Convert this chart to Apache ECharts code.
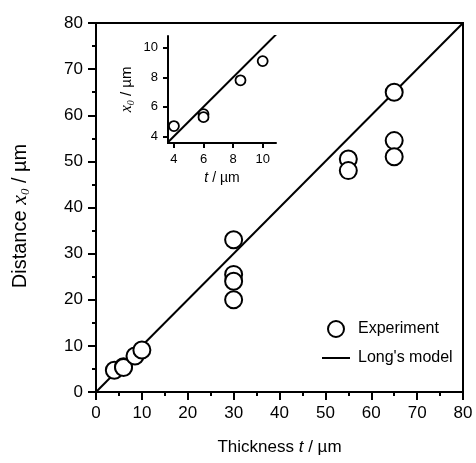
<!DOCTYPE html>
<html>
<head>
<meta charset="utf-8">
<script src="https://cdn.jsdelivr.net/npm/echarts@6/dist/echarts.min.js"></script>
<style>
html, body { margin: 0; padding: 0; background: #fff; }
#main { width: 476px; height: 463px; }
</style>
</head>
<body>
<div id="main"></div>
<script>
"use strict";

// measured points (thickness t, distance x0), both in µm
var thickness = [4, 6, 6, 8.5, 10, 30, 30, 30, 30, 55, 55, 65, 65, 65];
var distance = [4.7, 5.5, 5.3, 7.8, 9.1, 33, 25.5, 24, 20, 50.5, 48, 65, 54.5, 51];
// Long's model line
var modelT = [0, 80];
var modelX = [0, 80];
// inset (zoom on the thin samples)
var insetThickness = [4, 6, 6, 8.5, 10];
var insetDistance = [4.7, 5.5, 5.3, 7.8, 9.1];
var insetModelT = [3.5, 11];
var insetModelX = [3.5, 11];
var insetTicks = [4, 6, 8, 10];

var FONT = "'Liberation Sans', Arial, sans-serif";
var SERIF = "'Liberation Serif', 'Times New Roman', serif";

function pairs(xs, ys) {
    var out = [];
    for (var i = 0; i < xs.length; i++) out.push([xs[i], ys[i]]);
    return out;
}

var myChart = echarts.init(document.getElementById('main'), null, { renderer: 'canvas' });

var axisLine = { lineStyle: { color: '#000', width: 2 } };

var option = {
    animation: false,
    backgroundColor: '#fff',
    textStyle: { fontFamily: FONT, color: '#000' },
    legend: {
        data: [
            { name: 'Experiment' },
            { name: "Long's model", icon: 'path://M0,0 L28,0 L28,2 L0,2 Z', itemStyle: { color: '#000' } }
        ],
        orient: 'vertical',
        left: 317,
        top: 315,
        itemWidth: 28,
        itemHeight: 16,
        itemGap: 12,
        textStyle: { fontSize: 16, color: '#000', fontFamily: FONT, padding: [0, 0, 0, 3] }
    },
    grid: [
        { left: 96, right: 13, top: 23, bottom: 71, show: true, borderColor: '#000', borderWidth: 2 },
        { left: 168, top: 36, width: 108, height: 107 }
    ],
    xAxis: [
        {
            gridIndex: 0, type: 'value', min: 0, max: 80, interval: 10,
            axisLine: axisLine,
            axisTick: { length: 8, lineStyle: { color: '#000', width: 2 } },
            minorTick: { show: true, splitNumber: 2, length: 4, lineStyle: { color: '#000', width: 2 } },
            splitLine: { show: false },
            axisLabel: { color: '#000', fontSize: 17, margin: 13, fontFamily: FONT },
            name: '{n|Thickness }{i|t}{n| / µm}',
            nameLocation: 'middle',
            nameGap: 47,
            nameTextStyle: {
                rich: {
                    n: { fontSize: 17, fontFamily: FONT, color: '#000' },
                    i: { fontSize: 17, fontFamily: FONT, fontStyle: 'italic', color: '#000' }
                }
            }
        },
        {
            gridIndex: 1, type: 'value', min: 3.6, max: 10.9,
            axisLine: axisLine,
            axisTick: { length: 5, customValues: insetTicks, lineStyle: { color: '#000', width: 2 } },
            splitLine: { show: false },
            axisLabel: { color: '#000', fontSize: 13, margin: 10, fontFamily: FONT, customValues: insetTicks },
            name: '{i|t}{n| / µm}',
            nameLocation: 'middle',
            nameGap: 28,
            nameTextStyle: {
                rich: {
                    n: { fontSize: 14, fontFamily: FONT, color: '#000' },
                    i: { fontSize: 14, fontFamily: FONT, fontStyle: 'italic', color: '#000' }
                }
            }
        }
    ],
    yAxis: [
        {
            gridIndex: 0, type: 'value', min: 0, max: 80, interval: 10,
            axisLine: axisLine,
            axisTick: { length: 8, lineStyle: { color: '#000', width: 2 } },
            minorTick: { show: true, splitNumber: 2, length: 4, lineStyle: { color: '#000', width: 2 } },
            splitLine: { show: false },
            axisLabel: { color: '#000', fontSize: 17, margin: 13, fontFamily: FONT },
            name: '{n|Distance }{i|x}{s|0}{n| / µm}',
            nameLocation: 'middle',
            nameGap: 64,
            nameTextStyle: {
                padding: [0, 17, 0, 0],
                rich: {
                    n: { fontSize: 20, fontFamily: FONT, color: '#000', lineHeight: 24 },
                    i: { fontSize: 22, fontFamily: SERIF, fontStyle: 'italic', color: '#000', lineHeight: 24 },
                    s: { fontSize: 13, fontFamily: SERIF, fontStyle: 'italic', color: '#000', lineHeight: 13, verticalAlign: 'bottom' }
                }
            }
        },
        {
            gridIndex: 1, type: 'value', min: 3.55, max: 10.8,
            axisLine: axisLine,
            axisTick: { length: 5, customValues: insetTicks, lineStyle: { color: '#000', width: 2 } },
            splitLine: { show: false },
            axisLabel: { color: '#000', fontSize: 13, margin: 10, fontFamily: FONT, customValues: insetTicks },
            name: '{i|x}{s|0}{n| / µm}',
            nameLocation: 'middle',
            nameGap: 32,
            nameTextStyle: {
                rich: {
                    n: { fontSize: 15, fontFamily: FONT, color: '#000', lineHeight: 18 },
                    i: { fontSize: 16, fontFamily: SERIF, fontStyle: 'italic', color: '#000', lineHeight: 18 },
                    s: { fontSize: 10, fontFamily: SERIF, fontStyle: 'italic', color: '#000', lineHeight: 10, verticalAlign: 'bottom' }
                }
            }
        }
    ],
    series: [
        {
            name: "Long's model",
            type: 'line',
            xAxisIndex: 0, yAxisIndex: 0,
            symbol: 'none',
            lineStyle: { color: '#000', width: 2 },
            itemStyle: { color: '#000' },
            z: 2,
            data: pairs(modelT, modelX)
        },
        {
            name: 'Experiment',
            type: 'scatter',
            xAxisIndex: 0, yAxisIndex: 0,
            symbol: 'circle',
            symbolSize: 17,
            itemStyle: { color: '#fff', borderColor: '#000', borderWidth: 2, opacity: 1 },
            z: 3,
            data: pairs(thickness, distance)
        },
        {
            name: 'inset model',
            type: 'line',
            xAxisIndex: 1, yAxisIndex: 1,
            symbol: 'none',
            clip: true,
            lineStyle: { color: '#000', width: 2 },
            z: 2,
            data: pairs(insetModelT, insetModelX)
        },
        {
            name: 'inset experiment',
            type: 'scatter',
            xAxisIndex: 1, yAxisIndex: 1,
            symbol: 'circle',
            symbolSize: 10,
            itemStyle: { color: '#fff', borderColor: '#000', borderWidth: 1.8, opacity: 1 },
            z: 3,
            data: pairs(insetThickness, insetDistance)
        }
    ]
};
myChart.setOption(option);
</script>
</body>
</html>
